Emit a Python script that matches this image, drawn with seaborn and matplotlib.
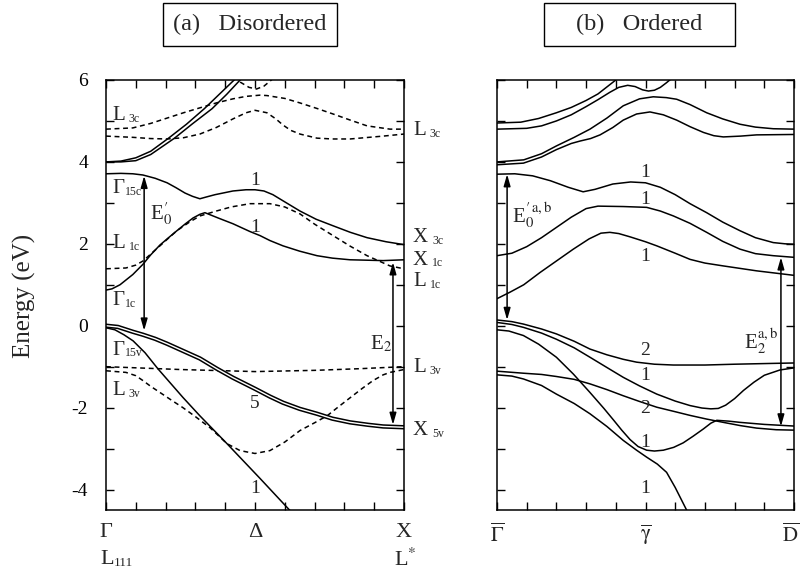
import matplotlib
matplotlib.use("Agg")
import matplotlib.pyplot as plt
import seaborn as sns
from matplotlib.patches import Rectangle

# ---------------- data: panel (a) Disordered ----------------
a_c5a_x = [0, 0.05, 0.10, 0.15, 0.21, 0.27, 0.33, 0.38, 0.43, 0.46]
a_c5a_y = [4.0, 4.02, 4.10, 4.26, 4.58, 4.92, 5.30, 5.65, 6.0, 6.25]
a_c5b_x = [0, 0.05, 0.10, 0.15, 0.23, 0.29, 0.356, 0.405, 0.45, 0.48]
a_c5b_y = [4.0, 4.0, 4.03, 4.18, 4.58, 4.93, 5.30, 5.65, 6.0, 6.25]
a_top_dash_x = [0.43, 0.45, 0.48, 0.505, 0.53, 0.555, 0.57]
a_top_dash_y = [6.10, 5.95, 5.82, 5.78, 5.85, 6.0, 6.10]
a_l3c_up_x = [0, 0.09, 0.15, 0.205, 0.26, 0.315, 0.37, 0.426, 0.47, 0.517, 0.54, 0.60, 0.651, 0.71, 0.762, 0.82, 0.876, 0.953, 1.0]
a_l3c_up_y = [4.80, 4.83, 4.94, 5.07, 5.20, 5.32, 5.44, 5.54, 5.60, 5.63, 5.62, 5.55, 5.44, 5.30, 5.17, 5.02, 4.88, 4.80, 4.80]
a_l3c_lo_x = [0, 0.09, 0.15, 0.205, 0.26, 0.315, 0.37, 0.426, 0.47, 0.50, 0.54, 0.57, 0.594, 0.62, 0.651, 0.708, 0.76, 0.819, 0.93, 1.0]
a_l3c_lo_y = [4.63, 4.60, 4.57, 4.56, 4.59, 4.68, 4.84, 5.05, 5.20, 5.26, 5.20, 5.05, 4.90, 4.77, 4.68, 4.58, 4.56, 4.56, 4.63, 4.68]
a_g15c_x = [0, 0.05, 0.09, 0.124, 0.165, 0.205, 0.235, 0.265, 0.29, 0.315, 0.34, 0.366, 0.426, 0.47, 0.50, 0.53, 0.56, 0.594, 0.651, 0.705, 0.762, 0.82, 0.876, 0.94, 1.0]
a_g15c_y = [3.71, 3.72, 3.71, 3.68, 3.60, 3.49, 3.37, 3.24, 3.16, 3.10, 3.15, 3.20, 3.29, 3.32, 3.32, 3.29, 3.20, 3.05, 2.80, 2.60, 2.44, 2.28, 2.15, 2.05, 1.98]
a_g1c_x = [0, 0.02, 0.047, 0.09, 0.124, 0.15, 0.181, 0.21, 0.238, 0.265, 0.292, 0.315, 0.332, 0.38, 0.426, 0.483, 0.517, 0.55, 0.594, 0.65, 0.708, 0.76, 0.819, 0.93, 1.0]
a_g1c_y = [0.87, 0.90, 1.00, 1.25, 1.50, 1.73, 1.97, 2.15, 2.32, 2.48, 2.63, 2.72, 2.76, 2.62, 2.49, 2.30, 2.20, 2.08, 1.95, 1.82, 1.71, 1.65, 1.61, 1.59, 1.61]
a_l1c_x = [0, 0.067, 0.10, 0.124, 0.15, 0.181, 0.21, 0.238, 0.28, 0.315, 0.37, 0.42, 0.483, 0.55, 0.60, 0.651, 0.70, 0.762, 0.82, 0.876, 0.953, 1.0]
a_l1c_y = [1.39, 1.41, 1.48, 1.58, 1.75, 1.95, 2.14, 2.32, 2.53, 2.68, 2.80, 2.90, 2.98, 2.98, 2.90, 2.73, 2.48, 2.20, 1.94, 1.71, 1.46, 1.39]
a_g15v_x = [0, 0.04, 0.091, 0.124, 0.165, 0.205, 0.26, 0.315, 0.372, 0.426, 0.50, 0.55, 0.594, 0.65, 0.708, 0.76, 0.819, 0.88, 0.93, 1.0]
a_g15v_y = [0.0, -0.03, -0.15, -0.22, -0.32, -0.44, -0.62, -0.80, -1.05, -1.27, -1.54, -1.73, -1.88, -2.03, -2.15, -2.27, -2.36, -2.42, -2.46, -2.48]
a_v1_x = [0, 0.03, 0.06, 0.091, 0.131, 0.174, 0.258, 0.315, 0.406, 0.517, 0.617, 0.651]
a_v1_y = [-0.05, -0.10, -0.22, -0.37, -0.66, -1.05, -1.75, -2.20, -2.88, -3.73, -4.51, -4.80]
a_l3v_flat_x = [0, 0.25, 0.50, 0.70, 0.85, 1.0]
a_l3v_flat_y = [-1.00, -1.07, -1.12, -1.09, -1.05, -1.00]
a_l3v_x = [0, 0.067, 0.10, 0.124, 0.15, 0.181, 0.22, 0.258, 0.30, 0.349, 0.406, 0.45, 0.50, 0.55, 0.60, 0.651, 0.70, 0.742, 0.78, 0.819, 0.86, 0.896, 0.93, 0.953, 1.0]
a_l3v_y = [-1.10, -1.14, -1.22, -1.34, -1.48, -1.63, -1.82, -2.00, -2.22, -2.49, -2.88, -3.05, -3.12, -3.05, -2.84, -2.56, -2.37, -2.20, -1.98, -1.76, -1.53, -1.34, -1.20, -1.14, -1.07]

# ---------------- data: panel (b) Ordered ----------------
b_u1_x = [0, 0.08, 0.14, 0.20, 0.25, 0.30, 0.34, 0.37, 0.40, 0.42]
b_u1_y = [4.95, 4.97, 5.06, 5.20, 5.33, 5.50, 5.66, 5.83, 6.0, 6.15]
b_u2_x = [0, 0.10, 0.15, 0.20, 0.25, 0.30, 0.34, 0.38, 0.41, 0.44, 0.465, 0.49, 0.51, 0.53, 0.55, 0.57, 0.59, 0.61]
b_u2_y = [4.80, 4.82, 4.88, 5.00, 5.15, 5.35, 5.52, 5.70, 5.82, 5.87, 5.84, 5.76, 5.73, 5.75, 5.82, 5.93, 6.05, 6.20]
b_u3_x = [0, 0.09, 0.15, 0.20, 0.26, 0.313, 0.37, 0.425, 0.48, 0.526, 0.57, 0.605, 0.65, 0.706, 0.76, 0.818, 0.87, 0.93, 1.0]
b_u3_y = [4.00, 4.05, 4.20, 4.39, 4.60, 4.80, 5.07, 5.37, 5.54, 5.59, 5.57, 5.53, 5.40, 5.20, 5.05, 4.92, 4.85, 4.81, 4.80]
b_u4_x = [0, 0.089, 0.15, 0.20, 0.25, 0.28, 0.315, 0.347, 0.39, 0.425, 0.47, 0.515, 0.56, 0.605, 0.65, 0.695, 0.73, 0.762, 0.82, 0.874, 1.0]
b_u4_y = [3.93, 3.97, 4.12, 4.30, 4.45, 4.51, 4.57, 4.66, 4.84, 5.02, 5.17, 5.22, 5.15, 5.02, 4.86, 4.72, 4.64, 4.61, 4.63, 4.66, 4.67]
b_c1_x = [0, 0.06, 0.12, 0.18, 0.24, 0.29, 0.33, 0.39, 0.45, 0.50, 0.55, 0.60, 0.65, 0.706, 0.76, 0.818, 0.87, 0.93, 0.97, 1.0]
b_c1_y = [3.70, 3.71, 3.66, 3.54, 3.38, 3.27, 3.33, 3.46, 3.51, 3.49, 3.38, 3.20, 2.98, 2.76, 2.53, 2.32, 2.15, 2.03, 2.00, 1.99]
b_c2_x = [0, 0.05, 0.10, 0.15, 0.20, 0.25, 0.30, 0.34, 0.425, 0.504, 0.55, 0.594, 0.65, 0.706, 0.76, 0.818, 0.87, 0.93, 1.0]
b_c2_y = [1.71, 1.77, 1.93, 2.15, 2.40, 2.65, 2.86, 2.92, 2.91, 2.89, 2.80, 2.68, 2.50, 2.28, 2.06, 1.87, 1.76, 1.71, 1.67]
b_c3_x = [0, 0.044, 0.09, 0.145, 0.20, 0.257, 0.31, 0.35, 0.38, 0.41, 0.448, 0.50, 0.538, 0.60, 0.65, 0.70, 0.762, 0.874, 1.0]
b_c3_y = [0.66, 0.82, 1.00, 1.30, 1.58, 1.87, 2.12, 2.26, 2.28, 2.25, 2.17, 2.05, 1.95, 1.77, 1.62, 1.53, 1.46, 1.34, 1.23]
b_v1_x = [0, 0.05, 0.089, 0.15, 0.20, 0.26, 0.313, 0.37, 0.425, 0.47, 0.53, 0.594, 0.70, 0.80, 0.93, 1.0]
b_v1_y = [0.14, 0.10, 0.04, -0.08, -0.20, -0.38, -0.57, -0.71, -0.82, -0.89, -0.94, -0.96, -0.96, -0.94, -0.92, -0.91]
b_v2_x = [0, 0.05, 0.089, 0.15, 0.20, 0.26, 0.313, 0.37, 0.425, 0.48, 0.538, 0.60, 0.65, 0.69, 0.72, 0.745, 0.77, 0.80, 0.83, 0.865, 0.90, 0.953, 1.0]
b_v2_y = [0.08, 0.03, -0.04, -0.18, -0.33, -0.54, -0.77, -1.02, -1.26, -1.47, -1.67, -1.84, -1.95, -2.01, -2.03, -2.02, -1.94, -1.78, -1.58, -1.38, -1.21, -1.08, -1.03]
b_v3_x = [0, 0.089, 0.15, 0.20, 0.26, 0.313, 0.37, 0.425, 0.48, 0.538, 0.60, 0.65, 0.706, 0.762, 0.82, 0.874, 0.94, 1.0]
b_v3_y = [-1.11, -1.16, -1.19, -1.24, -1.31, -1.42, -1.56, -1.71, -1.85, -1.99, -2.10, -2.19, -2.28, -2.36, -2.44, -2.50, -2.54, -2.55]
b_v4_x = [0, 0.04, 0.089, 0.14, 0.20, 0.257, 0.313, 0.36, 0.392, 0.42, 0.448, 0.475, 0.504, 0.53, 0.56, 0.595, 0.627, 0.66, 0.695, 0.72, 0.74, 0.78, 0.818, 0.90, 1.0]
b_v4_y = [-0.10, -0.13, -0.24, -0.45, -0.77, -1.18, -1.63, -2.02, -2.30, -2.55, -2.78, -2.95, -3.04, -3.06, -3.04, -2.97, -2.86, -2.70, -2.52, -2.38, -2.31, -2.33, -2.36, -2.41, -2.45]
b_v5_x = [0, 0.05, 0.089, 0.15, 0.20, 0.26, 0.313, 0.37, 0.425, 0.47, 0.504, 0.54, 0.571, 0.60, 0.639, 0.66]
b_v5_y = [-1.20, -1.23, -1.30, -1.46, -1.67, -1.90, -2.15, -2.46, -2.80, -3.04, -3.21, -3.38, -3.58, -3.95, -4.51, -4.80]

# ---------------- style ----------------
sns.set_style("ticks")
plt.rcParams['font.family'] = ['Liberation Serif', 'DejaVu Serif']
plt.rcParams['mathtext.fontset'] = 'stix'
plt.rcParams['axes.unicode_minus'] = False

fig = plt.figure(figsize=(8.01, 5.75), dpi=100)
ax_a = fig.add_axes([106/801, 1-510/575, 298/801, 430/575])
ax_b = fig.add_axes([497/801, 1-510/575, 297/801, 430/575])

DASH = (0, (3.2, 2.4))


def band(ax, x, y, dashed=False, lw=1.1):
    sns.lineplot(x=x, y=y, ax=ax, sort=False, estimator=None, color='black',
                 lw=lw, linestyle=DASH if dashed else '-')


def double_band(ax, x, y):
    sns.lineplot(x=x, y=y, ax=ax, sort=False, estimator=None, color='black', lw=3.2)
    sns.lineplot(x=x, y=y, ax=ax, sort=False, estimator=None, color='white', lw=1.0)


def arrow(ax, x, y0, y1):
    ax.annotate('', xy=(x, y1), xytext=(x, y0),
                arrowprops=dict(arrowstyle='<|-|>,head_length=0.7,head_width=0.2',
                                lw=1.1, color='black', shrinkA=0, shrinkB=0,
                                mutation_scale=10))


def sublabel(ax, x, y, main, sub, transform=None, fs=15, sfs=8.5, gap=1.0):
    t = ax.text(x, y, main, fontsize=fs, ha='left', va='center',
                transform=transform if transform is not None else ax.transData)
    ax.annotate(sub, xy=(1, 0.02), xycoords=t, xytext=(gap, 0), textcoords='offset points',
                fontsize=sfs, ha='left', va='bottom')


# panel a
band(ax_a, a_c5a_x, a_c5a_y)
band(ax_a, a_c5b_x, a_c5b_y)
band(ax_a, a_top_dash_x, a_top_dash_y, dashed=True)
band(ax_a, a_l3c_up_x, a_l3c_up_y, dashed=True)
band(ax_a, a_l3c_lo_x, a_l3c_lo_y, dashed=True)
band(ax_a, a_g15c_x, a_g15c_y)
band(ax_a, a_g1c_x, a_g1c_y)
band(ax_a, a_l1c_x, a_l1c_y, dashed=True)
band(ax_a, a_v1_x, a_v1_y)
band(ax_a, a_l3v_flat_x, a_l3v_flat_y, dashed=True)
band(ax_a, a_l3v_x, a_l3v_y, dashed=True)
double_band(ax_a, a_g15v_x, a_g15v_y)
arrow(ax_a, 0.128, -0.12, 3.66)
arrow(ax_a, 0.963, -2.42, 1.55)

# panel b
for xs, ys in [(b_u1_x, b_u1_y), (b_u2_x, b_u2_y), (b_u3_x, b_u3_y), (b_u4_x, b_u4_y),
               (b_c1_x, b_c1_y), (b_c2_x, b_c2_y), (b_c3_x, b_c3_y),
               (b_v1_x, b_v1_y), (b_v2_x, b_v2_y), (b_v3_x, b_v3_y),
               (b_v4_x, b_v4_y), (b_v5_x, b_v5_y)]:
    band(ax_b, xs, ys)
arrow(ax_b, 0.034, 0.14, 3.70)
arrow(ax_b, 0.956, -2.46, 1.67)

for ax in (ax_a, ax_b):
    ax.set_xlim(0, 1)
    ax.set_ylim(-4.5, 6.0)
    ax.set_xticks([i / 10 for i in range(11)])
    ax.set_yticks(list(range(-4, 7)))
    ax.set_xticklabels([])
    ax.tick_params(direction='in', length=6, width=1.0, top=True, right=True,
                   labelsize=14, pad=13, colors='black')
    for s in ax.spines.values():
        s.set_linewidth(1.1)
        s.set_color('black')
    ax.set_xlabel('')
    ax.set_ylabel('')

ax_a.set_yticklabels(['-4', '', '-2', '', '0', '', '2', '', '4', '', '6'])
ax_b.set_yticklabels([])

# labels inside panel a
for main, sub, y, gap in [('L', '3c', 5.13, 3), ('Γ', '15c', 3.34, 0.5), ('L', '1c', 2.0, 3),
                          ('Γ', '1c', 0.61, 0.5), ('Γ', '15v', -0.6, 0.5), ('L', '3v', -1.59, 3)]:
    sublabel(ax_a, 0.02, y, main, sub, gap=gap)
ax_a.text(0.148, 2.73, r'E$_0^{\prime}$', fontsize=15, ha='left', va='center')
ax_a.text(0.886, -0.44, r'E$_2$', fontsize=15, ha='left', va='center')
for txt, y in [('1', 3.55), ('1', 2.39), ('5', -1.9), ('1', -3.98)]:
    ax_a.text(0.5, y, txt, fontsize=14, ha='center', va='center')

# labels outside right of panel a
tr = ax_a.get_yaxis_transform()
for main, sub, y in [('L', '3c', 4.76), ('X', '3c', 2.15), ('X', '1c', 1.6),
                     ('L', '1c', 1.07), ('L', '3v', -1.02), ('X', '5v', -2.56)]:
    sublabel(ax_a, 1.03, y, main, sub, transform=tr, gap=3)

# labels inside panel b
ax_b.text(0.05, 2.7, r'E$_0^{\prime\,{\rm a,b}}$', fontsize=15, ha='left', va='center')
ax_b.text(0.83, -0.37, r'E$_2^{\rm a,b}$', fontsize=15, ha='left', va='center')
for txt, y in [('1', 3.73), ('1', 3.07), ('1', 1.7), ('2', -0.61), ('1', -1.22),
               ('2', -2.02), ('1', -2.85), ('1', -3.98)]:
    ax_b.text(0.5, y, txt, fontsize=14, ha='center', va='center')

# k-point labels
xa = ax_a.get_xaxis_transform()
for txt, x, y in [('Γ', 0.0, -0.053), ('Δ', 0.5, -0.053), ('X', 1.0, -0.053),
                  (r'L$^{*}$', 1.005, -0.116)]:
    ax_a.text(x, y, txt, fontsize=16, ha='center', va='center', transform=xa)
t111 = ax_a.text(-0.02, -0.116, 'L', fontsize=16, ha='left', va='center', transform=xa)
ax_a.annotate('111', xy=(1, 0.02), xycoords=t111, xytext=(0.5, 0), textcoords='offset points',
              fontsize=9.5, ha='left', va='bottom')
xb = ax_b.get_xaxis_transform()
for txt, x in [(r'$\overline{\Gamma}$', 0.0), (r'$\overline{\mathrm{\gamma}}$', 0.5),
               (r'$\overline{\mathrm{D}}$', 0.988)]:
    ax_b.text(x, -0.058, txt, fontsize=15, ha='center', va='center', transform=xb)

# y label
fig.text(24/801, 1-296/575, 'Energy (eV)', rotation=90, fontsize=18, ha='center', va='center')

# title boxes
for x0, w, title in [(163, 174, '(a)   Disordered'), (544, 191, '(b)   Ordered')]:
    fig.patches.append(Rectangle((x0/801, 1-46/575), w/801, 43/575, transform=fig.transFigure,
                                 fill=False, edgecolor='black', lw=1.0))
    fig.text((x0 + w/2)/801, 1-24.5/575, title, fontsize=17.5, ha='center', va='center')

fig.savefig('out.png', dpi=100)
